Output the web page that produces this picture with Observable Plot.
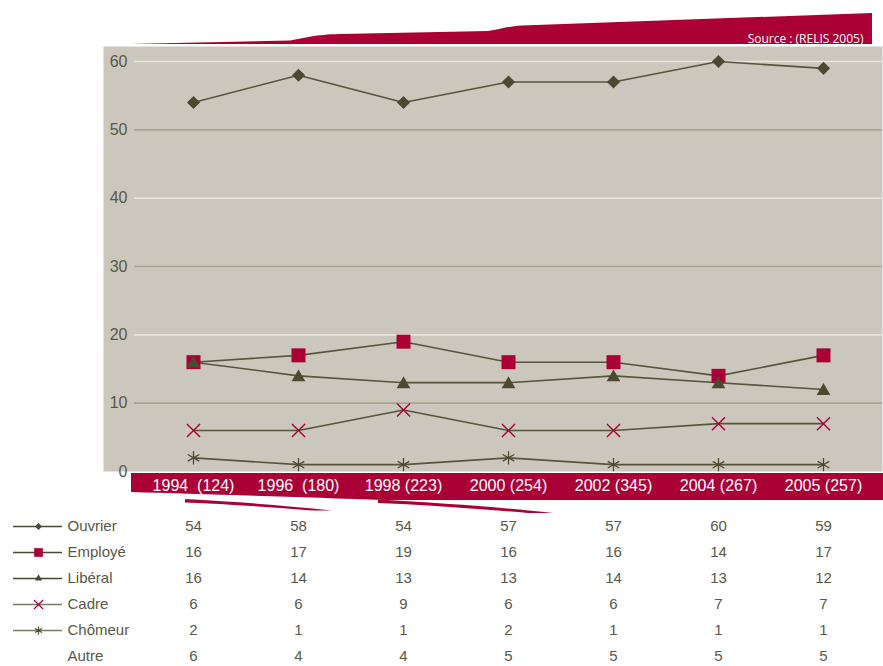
<!DOCTYPE html>
<html><head><meta charset="utf-8">
<script src="https://cdn.jsdelivr.net/npm/d3@7"></script>
<script src="https://cdn.jsdelivr.net/npm/@observablehq/plot@0.6"></script>
<style>
body{margin:0;background:#fff;}
#wrap{position:relative;width:883px;height:666px;overflow:hidden;}
#wrap svg{overflow:visible;display:block;}
#wrap text{white-space:pre;}
</style>
</head><body><div id="wrap"></div>
<script>
// ---- data ----
const years = ["1994  (124)","1996  (180)","1998 (223)","2000 (254)","2002 (345)","2004 (267)","2005 (257)"];
const seriesNames = ["Ouvrier","Employé","Libéral","Cadre","Chômeur","Autre"];
const ouvrier = [54,58,54,57,57,60,59];
const employe = [16,17,19,16,16,14,17];
const liberal = [16,14,13,13,14,13,12];
const cadre   = [6,6,9,6,6,7,7];
const chomeur = [2,1,1,2,1,1,1];
const autre   = [6,4,4,5,5,5,5];
const yTicks = [0,10,20,30,40,50,60];
const sourceText = "Source : (RELIS 2005)";

// ---- styles ----
const RED = "#ab0036", BG = "#cbc7bc", OLIVE = "#4a4a30", LINE = "#55553c",
      LIGHTLINE = "#7c7c64", GRID_L = "#e7e4dd", GRID_D = "#a9a491", TXT = "#58584a";
const FONT = "'Liberation Sans', Arial, sans-serif";

const seriesValues = [ouvrier, employe, liberal, cadre, chomeur, autre];
const style = {
  "Ouvrier": {symbol:"diamond2", r:5.9, fill:OLIVE, stroke:"none", sw:0, lr:3.2, legendLine:OLIVE},
  "Employé": {symbol:"square", r:7.9, fill:RED, stroke:"none", sw:0, lr:4.9, legendLine:OLIVE},
  "Libéral": {symbol:"triangle", r:5.1, fill:OLIVE, stroke:"none", sw:0, lr:2.7, legendLine:OLIVE, dy:1.5},
  "Cadre":   {symbol:"times", r:6.0, fill:"none", stroke:RED, sw:1.4, lr:4.2, legendLine:LIGHTLINE},
  "Chômeur": {symbol:"asterisk", r:6.3, fill:"none", stroke:OLIVE, sw:1.3, lr:3.8, legendLine:LIGHTLINE}
};
const plotted = seriesNames.filter(n => style[n]);

const rows = seriesNames.flatMap((name, si) =>
  years.map((year, i) => ({series:name, year, value: seriesValues[si][i]})));
const chartRows = rows.filter(d => style[d.series]);

// ---- decorations (background swooshes) ----
function decor() {
  const g = d3.create("svg:g");
  g.append("path").attr("fill", RED)
    .attr("d", "M130,44 L290,40.5 C305,38 315,34.5 340,34 L488,31 C500,29.5 506,26.5 522,25.5 L872,13 L872,44 Z");
  g.append("path").attr("fill", RED)
    .attr("d", "M131,473 L883,473 L883,500 L385,500 C300,497 200,494 131,492 Z");
  g.append("path").attr("fill", RED)
    .attr("d", "M185,499 C240,502 290,506 332,510.5 L312,510.5 C270,507 225,504 185,502.5 Z");
  g.append("path").attr("fill", RED)
    .attr("d", "M378,499.5 C440,503 500,507 553,513 L528,513 C480,509 430,505 378,503 Z");
  return g.node();
}

const xScale = {type:"point", domain: years, range:[191, 824], padding: 0};

const chart = Plot.plot({
  width: 883, height: 500,
  marginLeft: 103, marginRight: 1, marginTop: 46, marginBottom: 29,
  style: {fontFamily: FONT, background: "transparent", overflow: "visible"},
  x: xScale,
  y: {domain: [0, 62.2]},
  marks: [
    Plot.frame({fill: BG, stroke: null}),
    Plot.ruleY(yTicks.filter(t => t > 0), {y: d => d, stroke: d => (d / 10) % 2 === 0 ? GRID_L : GRID_D, strokeWidth: 1.6, insetLeft: 31}),
    decor,
    Plot.line(chartRows, {x: "year", y: "value", z: "series", stroke: LINE, strokeWidth: 1.6}),
    ...plotted.map(n => Plot.dot(chartRows.filter(d => d.series === n), {
      x: "year", y: "value", symbol: style[n].symbol, r: style[n].r,
      fill: style[n].fill, stroke: style[n].stroke, strokeWidth: style[n].sw, dy: style[n].dy || 0
    })),
    Plot.axisY({ticks: yTicks, anchor: "left", tickSize: 0, tickPadding: 0, dx: 24, fontSize: 16, fill: TXT, label: null}),
    Plot.axisX({anchor: "bottom", tickSize: 0, tickPadding: 8, fontSize: 16, fill: "white", label: null}),
    Plot.text([sourceText], {frameAnchor: "top-right", dx: -19, dy: -12, textAnchor: "end", fontSize: 12, fill: "white", fontFamily: "'Open Sans', 'Liberation Sans', sans-serif"})
  ]
});

const table = Plot.plot({
  width: 883, height: 166,
  marginLeft: 0, marginRight: 0, marginTop: 0, marginBottom: 0,
  style: {fontFamily: FONT, background: "transparent"},
  x: {...xScale, axis: null},
  y: {type: "point", domain: seriesNames, range: [24, 158], padding: 0, axis: null},
  marks: [
    Plot.ruleY(plotted, {y: d => d, stroke: d => style[d].legendLine, strokeWidth: 1.4, insetLeft: 13, insetRight: 821}),
    ...plotted.map(n => Plot.dot([n], {
      y: d => d, frameAnchor: "left", dx: 38, symbol: style[n].symbol, r: style[n].lr,
      fill: style[n].fill, stroke: style[n].stroke, strokeWidth: style[n].sw ? 1.2 : 0
    })),
    Plot.text(seriesNames, {y: d => d, frameAnchor: "left", dx: 67, textAnchor: "start", fontSize: 15, fill: TXT}),
    Plot.text(rows, {x: "year", y: "series", text: d => String(d.value), fontSize: 15, fill: TXT})
  ]
});

const wrap = document.getElementById("wrap");
wrap.appendChild(chart);
wrap.appendChild(table);
</script>
</body></html>
